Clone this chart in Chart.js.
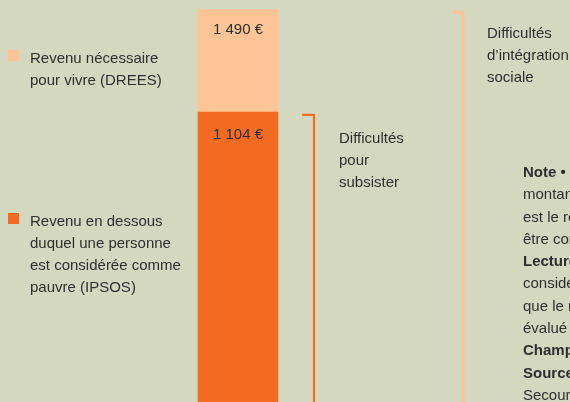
<!DOCTYPE html>
<html>
<head>
<meta charset="utf-8">
<script src="https://cdn.jsdelivr.net/npm/chart.js@4"></script>
<style>
  html, body { margin: 0; padding: 0; }
  body { width: 570px; height: 402px; overflow: hidden; background: #d4d8bf; position: relative;
         font-family: "Liberation Sans", Arial, sans-serif; font-size: 15px; color: #2f2f2f; }
  #wrap { position: absolute; left: 0; top: 0; width: 570px; height: 402px; }
  .txt { position: absolute; line-height: 22px; white-space: nowrap; }
  .sq { position: absolute; width: 11px; height: 11px; }
  b { font-weight: bold; }
</style>
</head>
<body>
<div id="wrap"><canvas id="revenus"></canvas></div>

<div class="sq" style="left:8px; top:50px; background:#fdc495"></div>
<div class="txt" style="left:30px; top:47px">Revenu nécessaire<br>pour vivre (DREES)</div>

<div class="sq" style="left:8px; top:213px; background:#f26b21"></div>
<div class="txt" style="left:30px; top:210px">Revenu en dessous<br>duquel une personne<br>est considérée comme<br>pauvre (IPSOS)</div>

<div class="txt" style="left:339px; top:127px">Difficultés<br>pour<br>subsister</div>
<div class="txt" style="left:487px; top:22px">Difficultés<br>d’intégration<br>sociale</div>

<div class="txt" style="left:523px; top:161px; line-height:22.3px">
<b>Note •</b> Le seuil<br>montant minimum<br>est le revenu<br>être considéré<br><b>Lecture •</b> En<br>considérée<br>que le revenu<br>évalué à<br><b>Champ •</b><br><b>Source •</b><br>Secours Catholique
</div>

<script>
// montants mensuels en euros
const categories = ['Revenu'];
const seuilPauvrete = [1104];      // IPSOS
const revenuNecessaire = [1490];   // DREES

const ecart = revenuNecessaire.map((v, i) => v - seuilPauvrete[i]);

function euros(v) {
  return String(v).replace(/\B(?=(\d{3})+(?!\d))/g, ' ') + ' €';
}

// étiquettes des montants + accolades "difficultés"
const annotations = {
  id: 'annotations',
  afterDatasetsDraw(chart) {
    const ctx = chart.ctx;
    const y = chart.scales.y;
    const xc = chart.scales.x.getPixelForValue(0);
    const bottom = chart.height;

    ctx.save();
    ctx.font = '15px "Liberation Sans", Arial, sans-serif';
    ctx.fillStyle = '#2f2f2f';
    ctx.textAlign = 'center';
    ctx.textBaseline = 'middle';
    ctx.fillText(euros(revenuNecessaire[0]), xc, y.getPixelForValue(revenuNecessaire[0]) + 21);
    ctx.fillText(euros(seuilPauvrete[0]), xc, y.getPixelForValue(seuilPauvrete[0]) + 23);

    function bracket(x, top, hook, color, w) {
      ctx.strokeStyle = color;
      ctx.lineWidth = w;
      ctx.lineJoin = 'round';
      ctx.beginPath();
      ctx.moveTo(x - hook, top);
      ctx.lineTo(x, top);
      ctx.lineTo(x, bottom + 5);
      ctx.stroke();
    }
    bracket(xc + 76, y.getPixelForValue(seuilPauvrete[0]) + 3, 12, '#f26b21', 2.2);
    bracket(xc + 225, y.getPixelForValue(revenuNecessaire[0]) + 3, 10, '#fdc495', 3);
    ctx.restore();
  }
};

new Chart(document.getElementById('revenus'), {
  type: 'bar',
  data: {
    labels: categories,
    datasets: [{
      label: 'Revenu en dessous duquel une personne est considérée comme pauvre (IPSOS)',
      data: seuilPauvrete,
      backgroundColor: '#f26b21',
      borderWidth: 0
    }, {
      label: 'Revenu nécessaire pour vivre (DREES)',
      data: ecart,
      backgroundColor: '#fdc495',
      borderWidth: 0
    }]
  },
  options: {
    responsive: true,
    maintainAspectRatio: false,
    animation: false,
    layout: { padding: { left: 0, right: 94, top: 0, bottom: 0 } },
    datasets: { bar: { barThickness: 80 } },
    plugins: { legend: { display: false }, tooltip: { enabled: false } },
    scales: {
      x: { stacked: true, display: false },
      y: { stacked: true, display: false, min: 13.5, max: 1525 }
    }
  },
  plugins: [annotations]
});
</script>
</body>
</html>
